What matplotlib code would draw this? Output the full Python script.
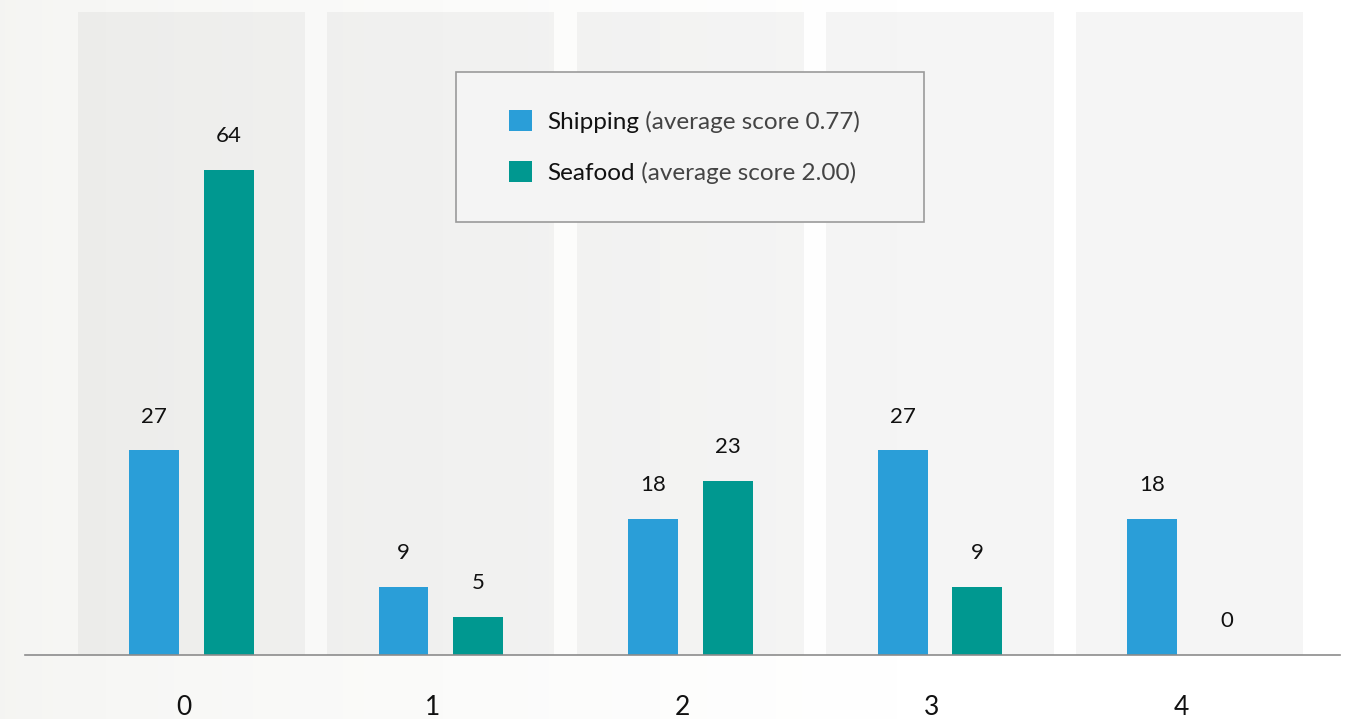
import matplotlib.pyplot as plt
import matplotlib.patches as mpatches
import matplotlib.transforms as mtransforms
import numpy as np

plt.rcParams['font.family'] = ['Lato', 'DejaVu Sans']

categories = ['0', '1', '2', '3', '4']
shipping = [27, 9, 18, 27, 18]
seafood = [64, 5, 23, 9, 0]
series_names = ['Shipping', 'Seafood']
series_notes = ['(average score 0.77)', '(average score 2.00)']

blue = '#2a9ed8'
green = '#009890'

fig = plt.figure(figsize=(13.51, 7.19), dpi=100)

# background gradient, light warm gray on the left fading to white
bg = fig.add_axes([0, 0, 1, 1], zorder=-2)
grad = np.clip(np.linspace(0, 1.5, 256), 0, 1) ** 0.7
c0 = np.array([0.960, 0.960, 0.950])
c1 = np.array([1.0, 1.0, 1.0])
img = c0[None, None, :] * (1 - grad[None, :, None]) + c1[None, None, :] * grad[None, :, None]
bg.imshow(img, aspect='auto', extent=[0, 1, 0, 1])
bg.axis('off')

W, H = 1351, 719
ax = fig.add_axes([25 / W, 1 - 655 / H, (1340 - 25) / W, (655 - 12) / H])
ax.set_facecolor('none')

x = np.arange(len(categories))
bw = 0.2

for xi in x:
    ax.axvspan(xi - 0.455, xi + 0.455, color='black', alpha=0.04, lw=0, zorder=0)

b1 = ax.bar(x - 0.15, shipping, bw, color=blue, zorder=2, label=series_names[0])
b2 = ax.bar(x + 0.15, seafood, bw, color=green, zorder=2, label=series_names[1])
for b in (b1, b2):
    ax.bar_label(b, padding=17, fontsize=16, color='#111111')

ax.set_xlim(-0.667, 4.603)
ax.set_ylim(0, 84.8)
for s in ['top', 'right', 'left']:
    ax.spines[s].set_visible(False)
ax.spines['bottom'].set_color('#8c8c8c')
ax.spines['bottom'].set_linewidth(1.2)
ax.set_yticks([])
ax.set_xticks(x)
ax.set_xticklabels(categories, fontsize=19, color='#111111')
ax.tick_params(axis='x', length=0, pad=29)
shift = mtransforms.ScaledTranslation(-8 / 100, 0, fig.dpi_scale_trans)
for lbl in ax.get_xticklabels():
    lbl.set_transform(lbl.get_transform() + shift)

# legend box
frame = mpatches.Rectangle((456 / W, 1 - 222 / H), 468 / W, 150 / H,
                           transform=fig.transFigure, facecolor='#f4f4f4',
                           edgecolor='#9a9a9a', lw=1.2, zorder=3, clip_on=False)
ax.add_patch(frame)

leg = ax.legend(loc='upper left', bbox_to_anchor=(509 / W, 1 - 110 / H),
                bbox_transform=fig.transFigure, frameon=False, fontsize=17.5,
                handlelength=0.95, handleheight=0.95, handletextpad=0.62,
                labelspacing=1.15, borderpad=0, borderaxespad=0)
leg.set_zorder(4)
for t, note in zip(leg.get_texts(), series_notes):
    t.set_color('#111111')
    ax.annotate(' ' + note, xy=(1, 0), xycoords=t, va='bottom', ha='left',
                fontsize=17.5, color='#444444', zorder=5, annotation_clip=False)

plt.savefig('out.png', dpi=100)
